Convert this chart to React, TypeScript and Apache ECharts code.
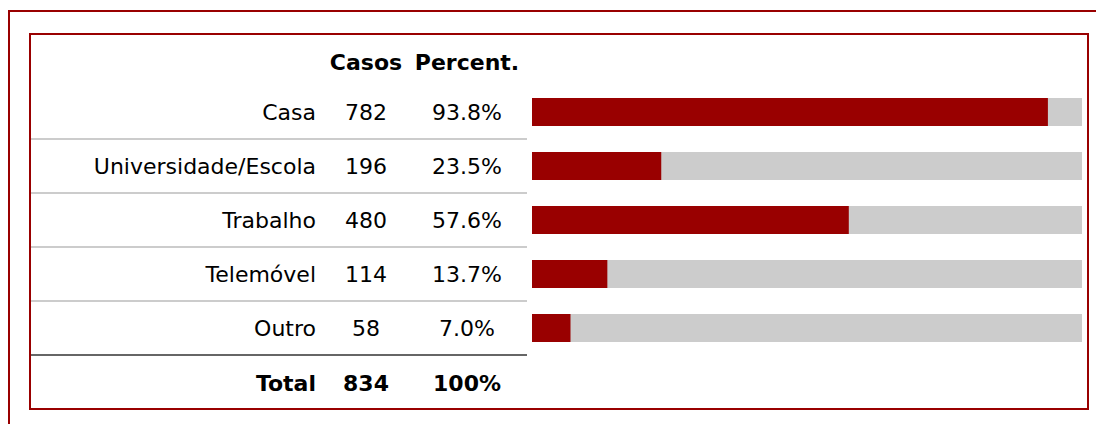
import React, { useEffect, useRef } from "react";
import * as echarts from "echarts";

const categories = ["Casa", "Universidade/Escola", "Trabalho", "Telemóvel", "Outro"];
const cases = [782, 196, 480, 114, 58];
const percents = [93.8, 23.5, 57.6, 13.7, 7.0];
const headerLabels = ["Casos", "Percent."];
const totalLabel = "Total";
const totalCases = 834;
const totalPercent = "100%";

const RED = "#990000";
const FONT = "'DejaVu Sans', Verdana, sans-serif";

export default function App() {
  const ref = useRef<HTMLDivElement>(null);
  useEffect(() => {
    if (!ref.current) return;
    const chart = echarts.init(ref.current, undefined, { renderer: "svg" });
    const gridTop = 85;
    const rowH = 54;
    const gridLeft = 532;
    const nameRight = 316;
    const colCases = 366;
    const colPct = 467;
    const graphics: any[] = [];
    // borders
    graphics.push({ type: "line", shape: { x1: 8, y1: 11, x2: 1096, y2: 11 }, style: { stroke: RED, lineWidth: 2 } });
    graphics.push({ type: "line", shape: { x1: 9, y1: 10, x2: 9, y2: 424 }, style: { stroke: RED, lineWidth: 2 } });
    graphics.push({ type: "rect", shape: { x: 30, y: 34, width: 1058, height: 375 }, style: { stroke: RED, lineWidth: 2, fill: "none" } });
    // separators
    for (let i = 1; i < categories.length; i++) {
      const y = gridTop + rowH * i;
      graphics.push({ type: "line", shape: { x1: 31, y1: y, x2: 527, y2: y }, style: { stroke: "#cccccc", lineWidth: 2 } });
    }
    const yEnd = gridTop + rowH * categories.length;
    graphics.push({ type: "line", shape: { x1: 31, y1: yEnd, x2: 527, y2: yEnd }, style: { stroke: "#666666", lineWidth: 2 } });
    const txt = (text: string, x: number, y: number, align: string, bold: boolean) => ({
      type: "text",
      x,
      y,
      style: {
        text,
        fill: "#000",
        fontSize: 22,
        fontWeight: bold ? "bold" : "normal",
        fontFamily: FONT,
        align,
        textAlign: align,
        verticalAlign: "middle",
        textVerticalAlign: "middle",
      },
    });
    graphics.push(txt(headerLabels[0], colCases, 62, "center", true));
    graphics.push(txt(headerLabels[1], colPct, 62, "center", true));
    const totalY = 383;
    graphics.push(txt(totalLabel, nameRight, totalY, "right", true));
    graphics.push(txt(String(totalCases), colCases, totalY, "center", true));
    graphics.push(txt(totalPercent, colPct, totalY, "center", true));

    const base = { fontSize: 22, fontFamily: FONT, color: "#000" };
    const mkAxis = (margin: number, align: string, formatter: (v: string, i: number) => string) => ({
      type: "category",
      inverse: true,
      position: "left",
      offset: 0,
      data: categories,
      axisLine: { show: false },
      axisTick: { show: false },
      splitLine: { show: false },
      axisLabel: { ...base, margin, align, formatter },
    });
    chart.setOption({
      animation: false,
      grid: { left: gridLeft, top: gridTop, width: 550, height: rowH * categories.length },
      xAxis: { type: "value", min: 0, max: 100, show: false },
      yAxis: [
        mkAxis(gridLeft - nameRight, "right", (v: string) => v),
        mkAxis(gridLeft - colCases, "center", (_v: string, i: number) => String(cases[i])),
        mkAxis(gridLeft - colPct, "center", (_v: string, i: number) => `${percents[i].toFixed(1)}%`),
      ],
      series: [
        {
          type: "bar",
          yAxisIndex: 0,
          data: percents,
          barWidth: 28,
          itemStyle: { color: RED },
          showBackground: true,
          backgroundStyle: { color: "#cccccc" },
        },
      ],
      graphic: graphics,
    });
    return () => chart.dispose();
  }, []);
  return <div ref={ref} style={{ position: "absolute", left: 0, top: 0, width: 1096, height: 424, background: "#fff" }} />;
}
